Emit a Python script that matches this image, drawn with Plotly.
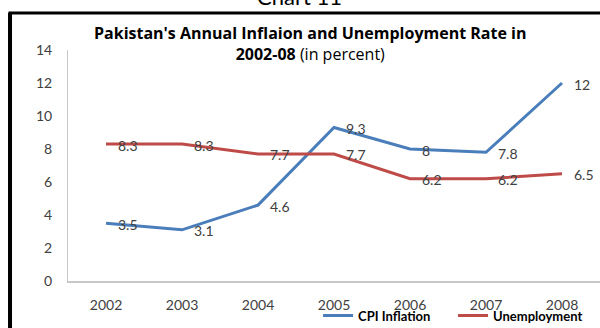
import plotly.graph_objects as go

years = ["2002", "2003", "2004", "2005", "2006", "2007", "2008"]
cpi = [3.5, 3.1, 4.6, 9.3, 8.0, 7.8, 12.0]
unemp = [8.3, 8.3, 7.7, 7.7, 6.2, 6.2, 6.5]
cpi_labels = ["3.5", "3.1", "4.6", "9.3", "8", "7.8", "12"]
unemp_labels = ["8.3", "8.3", "7.7", "7.7", "6.2", "6.2", "6.5"]

BLUE = "#4a7ebb"
RED = "#be4b48"
FONT = "Lato"

fig = go.Figure()
fig.add_trace(go.Scatter(x=years, y=cpi, mode="lines", name="CPI Inflation",
                         line=dict(color=BLUE, width=3)))
fig.add_trace(go.Scatter(x=years, y=unemp, mode="lines", name="Unemployment",
                         line=dict(color=RED, width=3)))

annots = []
for ys, labs in ((cpi, cpi_labels), (unemp, unemp_labels)):
    for i, (y, t) in enumerate(zip(ys, labs)):
        annots.append(dict(x=i, y=y, xref="x", yref="y", text=t, showarrow=False,
                           xanchor="left", yanchor="middle", xshift=10, yshift=-1,
                           font=dict(family=FONT, size=14, color="#404040")))

annots.append(dict(xref="paper", yref="paper", x=0.455, y=1.026,
                   text="<b>Pakistan's Annual Inflaion and Unemployment Rate in</b><br><b>2002-08</b> (in percent)",
                   showarrow=False, xanchor="center", yanchor="middle",
                   font=dict(family="Open Sans", size=16, color="#000000")))
annots.append(dict(xref="paper", yref="paper", x=0.436, y=1.23,
                   text="Chart 11", showarrow=False, xanchor="center", yanchor="middle",
                   font=dict(family=FONT, size=22, color="#000000")))

fig.update_layout(
    width=600, height=328,
    margin=dict(l=68, r=0, t=50, b=47, autoexpand=False),
    paper_bgcolor="white", plot_bgcolor="white",
    annotations=annots,
    showlegend=True,
    legend=dict(orientation="h", x=0.47, y=-0.085, xanchor="left", yanchor="top",
                font=dict(family=FONT, size=13, color="#000000", weight="bold"),
                bgcolor="rgba(0,0,0,0)", itemwidth=30, tracegroupgap=0,
                entrywidth=90, entrywidthmode="pixels"),
    xaxis=dict(type="category", range=[-0.5, 6.5], showgrid=False, showline=True,
               linecolor="#c8c8c8", linewidth=2, ticks="outside", ticklen=10,
               tickcolor="rgba(0,0,0,0)",
               tickfont=dict(family=FONT, size=14, color="#404040"), zeroline=False),
    yaxis=dict(range=[0, 14], dtick=2, showgrid=False, showline=True, linecolor="#c8c8c8",
               linewidth=1, ticks="outside", ticklen=12, tickcolor="rgba(0,0,0,0)",
               tickfont=dict(family=FONT, size=14, color="#404040"), zeroline=False),
    shapes=[
        dict(type="line", xref="paper", yref="paper", x0=-0.109, x1=-0.109, y0=1.16, y1=-0.3,
             line=dict(color="black", width=4)),
        dict(type="line", xref="paper", yref="paper", x0=-0.112, x1=1.01, y0=1.16, y1=1.16,
             line=dict(color="black", width=3)),
    ],
)

fig.write_html("out.html")
